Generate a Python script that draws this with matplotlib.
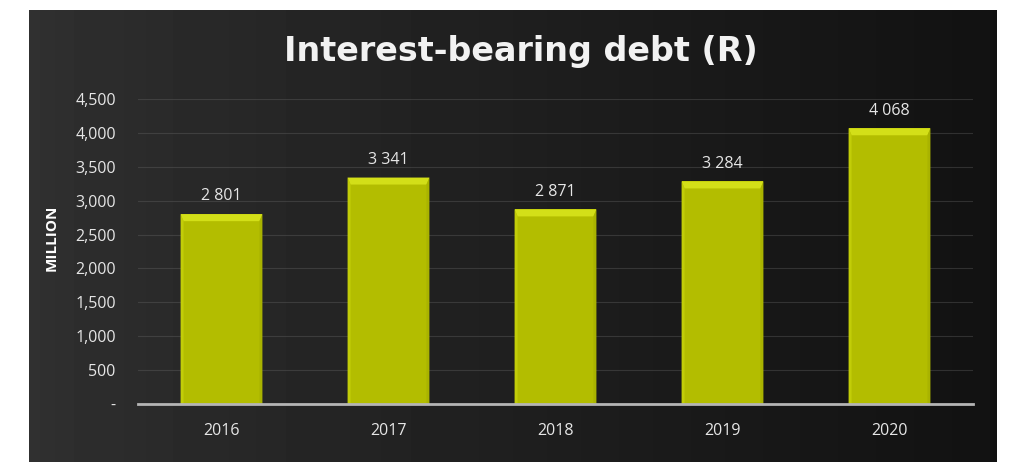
import numpy as np
import matplotlib.pyplot as plt
from matplotlib.patches import Polygon
from matplotlib.ticker import FuncFormatter

years = ["2016", "2017", "2018", "2019", "2020"]
debt = [2801, 3341, 2871, 3284, 4068]
yticks = [0, 500, 1000, 1500, 2000, 2500, 3000, 3500, 4000, 4500]

BAR = "#b3bd00"
TOP = "#d3df18"
SIDE = "#c2cd08"
TEXT = "#e6e6e6"

W, H = 1014, 462
fig = plt.figure(figsize=(W / 100, H / 100), dpi=100, facecolor="white")

# chalkboard panel, lighter towards the left
bg = fig.add_axes([29 / W, 0, 968 / W, 452 / H])
grad = np.linspace(0, 1, 256)
shade = 0.19 - 0.12 * grad ** 0.8
bg.imshow(np.tile(shade, (32, 1)), cmap="gray", vmin=0, vmax=1,
          aspect="auto", extent=[0, 1, 0, 1])
bg.set_axis_off()

ax = fig.add_axes([138 / W, 58 / H, 835 / W, 305 / H])
ax.set_facecolor("none")
x = np.arange(len(years))
width = 0.49
bars = ax.bar(x, debt, width=width, color=BAR, zorder=3)

ax.set_xlim(-0.5, len(years) - 0.5)
ax.set_ylim(0, 4500)

# bevelled edges on each bar, sized in pixels
px_y = 4500 / 305
px_x = 5 / 835
for b, v in zip(bars, debt):
    x0, x1 = b.get_x(), b.get_x() + b.get_width()
    d_top = 7 * px_y
    d_side = 3 * px_x
    ax.add_patch(Polygon([(x0, v), (x1, v), (x1 - d_side, v - d_top),
                          (x0 + d_side, v - d_top)],
                         closed=True, color=TOP, zorder=4, lw=0))
    ax.add_patch(Polygon([(x0, 0), (x0, v), (x0 + d_side, v - d_top),
                          (x0 + d_side, 0)],
                         closed=True, color=SIDE, zorder=4, lw=0))
    ax.add_patch(Polygon([(x1, 0), (x1, v), (x1 - d_side, v - d_top),
                          (x1 - d_side, 0)],
                         closed=True, color="#a9b300", zorder=4, lw=0))
    ax.annotate(f"{v:,}".replace(",", " "), (b.get_x() + b.get_width() / 2, v),
                xytext=(0, 7), textcoords="offset points", ha="center",
                va="bottom", color=TEXT, fontsize=11.5, family="Open Sans")

ax.set_yticks(yticks)
ax.yaxis.set_major_formatter(FuncFormatter(lambda v, p: "-" if v == 0 else f"{int(v):,}"))
ax.set_xticks(x)
ax.set_xticklabels(years)
ax.grid(axis="y", color="#6a6a6a", lw=0.8, alpha=0.35, zorder=1)
for s in ["top", "right", "left"]:
    ax.spines[s].set_visible(False)
ax.spines["bottom"].set_color("#b5b5b5")
ax.spines["bottom"].set_linewidth(2)
ax.spines["bottom"].set_zorder(5)
ax.tick_params(axis="both", length=0, colors=TEXT, labelsize=11.5)
ax.tick_params(axis="y", pad=16)
ax.tick_params(axis="x", pad=14)
for lab in ax.get_xticklabels() + ax.get_yticklabels():
    lab.set_family("Open Sans")

fig.text(52 / W, 1 - 238 / H, "MILLION", rotation=90, ha="center", va="center",
         color="white", fontsize=11, fontweight="bold", family="Open Sans")
fig.text(521 / W, 1 - 51 / H, "Interest-bearing debt (R)", ha="center",
         va="center", color="#f2f2f2", fontsize=24, fontweight="bold",
         family="DejaVu Sans")

fig.savefig("out.png", dpi=100, facecolor="white")
